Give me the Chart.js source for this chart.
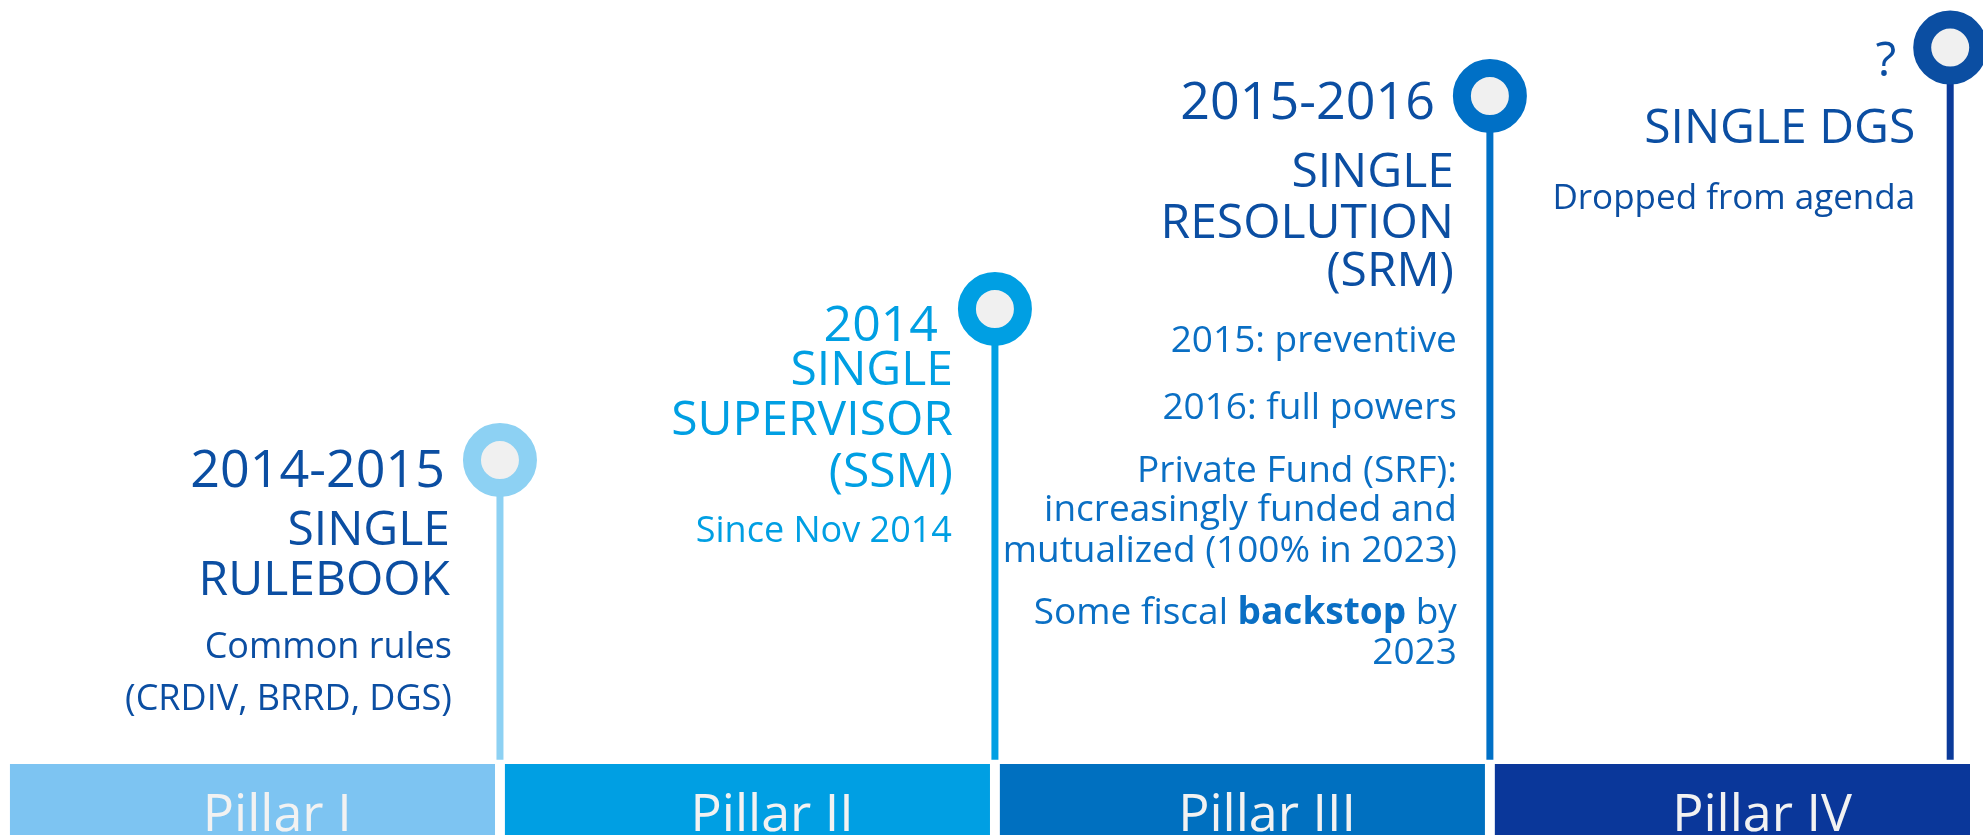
<!DOCTYPE html>
<html>
<head>
<meta charset="utf-8">
<title>Banking union pillars</title>
<script src="https://cdn.jsdelivr.net/npm/chart.js@4/dist/chart.umd.min.js"></script>
<style>
  html, body { margin: 0; padding: 0; background: #ffffff; }
  #pillars-chart { display: block; }
</style>
</head>
<body>
<canvas id="pillars-chart" width="1983" height="835"></canvas>
<script>
/* values (heights in % of the figure) */
const pillarLabels = ['Pillar I', 'Pillar II', 'Pillar III', 'Pillar IV'];
const pillarCentres = [0.5, 1.5, 2.5, 3.5];
const baseHeight = [8.5, 8.5, 8.5, 8.5];
const stemBase = 9.0;
const milestoneAt = [1.0, 2.0, 3.0, 3.93];
const milestoneHeight = [44.9, 63.0, 88.5, 94.3];

const milestoneDates = ['2014-2015', '2014', '2015-2016', '?'];
const milestoneTitles = [
    ['SINGLE', 'RULEBOOK'],
    ['SINGLE', 'SUPERVISOR', '(SSM)'],
    ['SINGLE', 'RESOLUTION', '(SRM)'],
    ['SINGLE DGS']
];
const milestoneNotes = [
    ['Common rules', '(CRDIV, BRRD, DGS)'],
    ['Since Nov 2014'],
    ['2015: preventive', '2016: full powers', 'Private Fund (SRF):', 'increasingly funded and',
     'mutualized (100% in 2023)', 'Some fiscal *backstop* by', '2023'],
    ['Dropped from agenda']
];

/* colours */
const bandColours = ['#7DC4F2', '#009FE3', '#0070C0', '#0A379A'];
const ringColours = ['#8DD1F3', '#009FE3', '#0070C6', '#0B4EA2'];
const stemColours = ['#8DD1F3', '#009FE3', '#0070C6', '#0A3A9A'];
const titleColours = ['#0B4EA2', '#009FE3', '#0B4EA2', '#0B4EA2'];
const noteColours = ['#0B4EA2', '#009FE3', '#0A6FC4', '#0B4EA2'];

const FONT = '"Open Sans", "Noto Sans", sans-serif';

/* text layout next to each circle: offsets from the circle centre */
const blocks = [
    {date: [-55, 27, 52], title: [-50, [85, 135]], note: [-48, 36, [198, 250]]},
    {date: [-57, 32, 50], title: [-42, [76, 126, 178]], note: [-43, 36, [233]]},
    {date: [-55, 23, 52], title: [-36, [91, 142, 190]], note: [-33, 37, [256, 323, 386, 425, 466, 528, 568]]},
    {date: [-54, 28, 48], title: [-35, [95]], note: [-35, 35, [161]]}
];

/* right aligned line, *word* is drawn bold */
function drawLine(ctx, text, right, base, size, colour) {
    const parts = text.split('*');
    const widths = parts.map((p, k) => {
        ctx.font = (k % 2 ? 'bold ' : '') + size + 'px ' + FONT;
        return ctx.measureText(p).width;
    });
    let left = right - widths.reduce((a, b) => a + b, 0);
    ctx.fillStyle = colour;
    parts.forEach((p, k) => {
        ctx.font = (k % 2 ? 'bold ' : '') + size + 'px ' + FONT;
        ctx.fillText(p, left, base);
        left += widths[k];
    });
}

const calloutPlugin = {
    id: 'callouts',
    afterDatasetsDraw(chart) {
        const ctx = chart.ctx;
        const x = chart.scales.x;
        const y = chart.scales.y;
        ctx.save();
        ctx.textBaseline = 'alphabetic';

        // pillar names inside the coloured bands
        ctx.textAlign = 'center';
        ctx.fillStyle = '#F2F2F2';
        ctx.font = '52px ' + FONT;
        pillarLabels.forEach((label, i) => {
            ctx.fillText(label, x.getPixelForValue(pillarCentres[i] + 0.05), y.getPixelForValue(0) - 4);
        });

        // milestone texts
        ctx.textAlign = 'left';
        pillarLabels.forEach((label, i) => {
            const cx = x.getPixelForValue(milestoneAt[i]);
            const cy = y.getPixelForValue(milestoneHeight[i]);
            const b = blocks[i];
            drawLine(ctx, milestoneDates[i], cx + b.date[0], cy + b.date[1], b.date[2], titleColours[i]);
            milestoneTitles[i].forEach((t, k) => {
                drawLine(ctx, t, cx + b.title[0], cy + b.title[1][k], 48, titleColours[i]);
            });
            milestoneNotes[i].forEach((t, k) => {
                drawLine(ctx, t, cx + b.note[0], cy + b.note[2][k], b.note[1], noteColours[i]);
            });
        });
        ctx.restore();
    }
};

/* Init the chart */
function initPillarsChart() {
    const ctx = document.getElementById('pillars-chart');

    const stems = pillarLabels.map((label, i) => ({
        type: 'line',
        label: label + ' milestone',
        data: [{x: milestoneAt[i], y: stemBase}, {x: milestoneAt[i], y: milestoneHeight[i]}],
        borderColor: stemColours[i],
        borderWidth: 7,
        pointRadius: [0, 28],
        pointBorderWidth: 18,
        pointBorderColor: ringColours[i],
        pointBackgroundColor: '#F0F0F0',
        clip: false,
        order: 0
    }));

    return new Chart(ctx, {
        type: 'bar',
        data: {
            datasets: [{
                type: 'bar',
                label: 'Pillars',
                data: pillarCentres.map((c, i) => ({x: c, y: baseHeight[i]})),
                backgroundColor: bandColours,
                borderWidth: 0,
                barPercentage: 0.98,
                categoryPercentage: 1,
                clip: 0,
                order: 1
            }].concat(stems)
        },
        options: {
            responsive: false,
            animation: false,
            devicePixelRatio: 1,
            layout: {autoPadding: false, padding: {left: 5, right: 13, top: 0, bottom: 0}},
            scales: {
                x: {
                    type: 'linear',
                    min: 0,
                    max: 3.97,
                    offset: false,
                    display: false,
                    afterBuildTicks: (s) => { s.ticks = [0, 1, 2, 3].map(v => ({value: v})); }
                },
                y: {type: 'linear', min: 0, max: 100, display: false}
            },
            plugins: {
                legend: {display: false},
                tooltip: {enabled: false}
            }
        },
        plugins: [calloutPlugin]
    });
}

var pillarsChart = initPillarsChart();
</script>
</body>
</html>
